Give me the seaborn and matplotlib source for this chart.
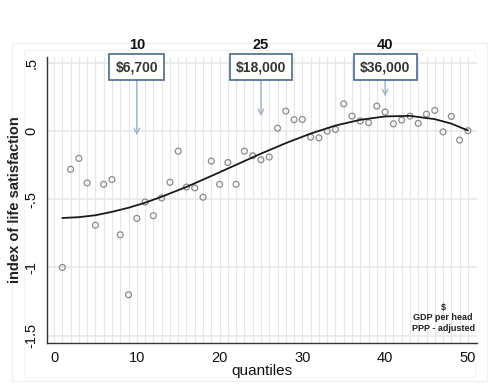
import matplotlib
matplotlib.use("Agg")
from matplotlib import pyplot as plt
from matplotlib.patches import Rectangle
import seaborn as sns
import pandas as pd

# quantile number and life satisfaction index
quantiles = list(range(1, 51))
satisfaction = [
    -1.00, -0.28, -0.20, -0.38, -0.69, -0.39, -0.355, -0.76, -1.20, -0.64,
    -0.52, -0.62, -0.49, -0.375, -0.147, -0.41, -0.416, -0.485, -0.22, -0.39,
    -0.23, -0.39, -0.147, -0.18, -0.21, -0.19, 0.022, 0.147, 0.084, 0.086,
    -0.044, -0.049, 0.0, 0.012, 0.20, 0.11, 0.075, 0.062, 0.184, 0.14,
    0.054, 0.081, 0.11, 0.057, 0.125, 0.152, -0.005, 0.108, -0.066, 0.003,
]

# fitted curve
fit_q = [1, 3, 5, 7, 9, 11, 13, 16, 19, 22, 25, 28, 31, 34, 37, 40, 43, 46,
         48, 50]
fit_val = [-0.637, -0.631, -0.617, -0.592, -0.562, -0.525, -0.481, -0.409,
           -0.329, -0.247, -0.165, -0.088, -0.018, 0.041, 0.083, 0.108,
           0.112, 0.088, 0.055, 0.005]

# GDP callouts
callout_q = [10, 25, 40]
callout_labels = ["$6,700", "$18,000", "$36,000"]
callout_tips = [-0.03, 0.11, 0.255]

df = pd.DataFrame({"quantiles": quantiles, "satisfaction": satisfaction})
fit = pd.DataFrame({"quantiles": fit_q, "satisfaction": fit_val})

sns.set_style("white")
plt.rcParams["font.family"] = ["Liberation Sans", "DejaVu Sans"]

fig = plt.figure(figsize=(5, 3.92), dpi=100)
ax = fig.add_axes([0.094, 0.125, 0.86, 0.73])

# faint graph-region frames
for (x0, y0, x1, y1, c) in [(12, 43, 487, 381, "#efefef"),
                            (24, 50, 475, 377, "#f3f3f3")]:
    fig.patches.append(Rectangle((x0 / 500, 1 - y1 / 392), (x1 - x0) / 500,
                                 (y1 - y0) / 392, transform=fig.transFigure,
                                 fill=False, edgecolor=c, lw=0.8, zorder=-5))

# grid
for q in range(0, 51):
    ax.axvline(q, color="#e6e6e6", lw=0.8, zorder=0)
for yv in [0.5, 0, -0.5, -1, -1.5]:
    ax.axhline(yv, color="#e8e8e8", lw=1.2, zorder=0)

sns.scatterplot(data=df, x="quantiles", y="satisfaction", ax=ax,
                marker="o", s=18, facecolors="none", edgecolor="#8c8c8c",
                linewidth=0.9, zorder=3)
sns.lineplot(data=fit, x="quantiles", y="satisfaction", ax=ax,
             color="#1a1a1a", lw=1.3, zorder=4)

ax.set_xlim(-0.85, 51.1)
ax.set_ylim(-1.554, 0.545)
ax.set_xticks([0, 10, 20, 30, 40, 50])
ax.set_xticks(range(0, 51), minor=True)
ax.set_yticks([0.5, 0, -0.5, -1, -1.5])
ax.set_yticklabels([".5", "0", "-.5", "-1", "-1.5"], rotation=90, va="center")
ax.tick_params(axis="both", which="major", direction="out", length=4,
               width=0.8, color="#333333", labelsize=10.5, labelcolor="#111111")
ax.tick_params(axis="x", which="minor", direction="out", length=2.5,
               width=0.6, color="#333333")
ax.tick_params(axis="x", which="major", pad=2)
ax.tick_params(axis="y", which="major", pad=2)

for side in ["top", "right"]:
    ax.spines[side].set_visible(False)
for side in ["left", "bottom"]:
    ax.spines[side].set_color("#333333")
    ax.spines[side].set_linewidth(1.0)

ax.set_xlabel("quantiles", fontsize=11, color="#111111", labelpad=-1)
ax.set_ylabel("index of life satisfaction", fontsize=10.5, fontweight="bold",
              color="#222222")
ax.yaxis.set_label_coords(-0.058, 0.5)

# callouts
for q, lab, tip in zip(callout_q, callout_labels, callout_tips):
    ax.annotate("", xy=(q, tip), xytext=(q, 0.39),
                arrowprops=dict(arrowstyle="->", color="#9db4cc", lw=1.0,
                                shrinkA=0, shrinkB=0),
                annotation_clip=False, zorder=5)
    ax.text(q, 0.47, lab, ha="center", va="center", fontsize=10,
            fontweight="bold", color="#333333", zorder=6, clip_on=False,
            bbox=dict(boxstyle="square,pad=0.45", facecolor="white",
                      edgecolor="#4a6990", lw=1.2))
    ax.text(q, 0.635, str(q), ha="center", va="center", fontsize=10.5,
            fontweight="bold", color="#111111", clip_on=False)

ax.text(47, -1.37, "$\nGDP per head\nPPP - adjusted", ha="center",
        va="center", fontsize=6.5, fontweight="bold", color="#222222",
        linespacing=1.2)

fig.savefig("out.png", dpi=100)
